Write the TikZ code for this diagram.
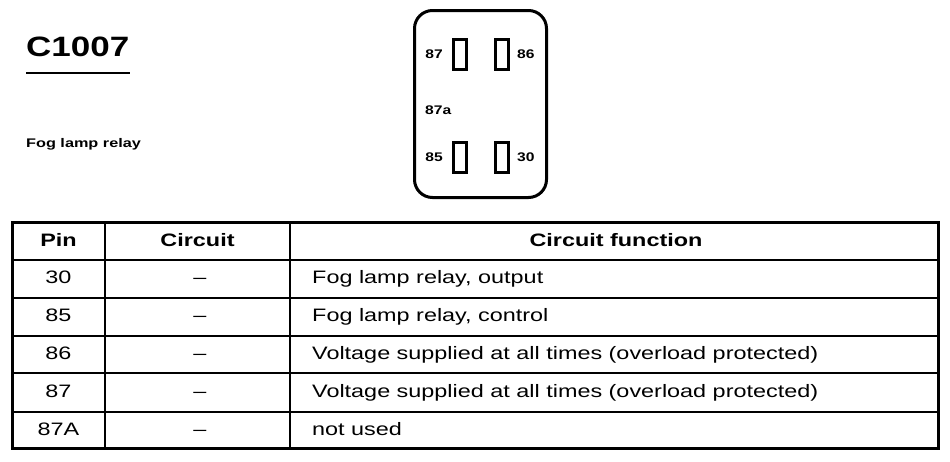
\documentclass[tikz,border=0pt]{standalone}
\usepackage{fontspec}
\setmainfont{Liberation Sans}
\newfontfamily\widefont[FakeStretch=1.3]{Liberation Sans}
\newfontfamily\labelfont[FakeStretch=1.25]{Liberation Sans}
\usetikzlibrary{positioning}

\begin{document}
\begin{tikzpicture}[x=1pt, y=-1pt,
    title/.style={font=\labelfont\bfseries\fontsize{28}{30}\selectfont, inner sep=0pt},
    caption/.style={font=\widefont\bfseries\fontsize{12.5}{14}\selectfont, inner sep=0pt},
    housing/.style={draw, line width=3pt, rounded corners=18pt, minimum width=132pt, minimum height=187pt},
    pinbox/.style={draw, line width=3pt, minimum width=13pt, minimum height=30pt, inner sep=0pt},
    pinlbl/.style={font=\labelfont\bfseries\fontsize{12.5}{14}\selectfont, inner sep=0pt},
    head/.style={font=\widefont\bfseries\fontsize{18}{20}\selectfont, inner sep=0pt, anchor=base},
    cell/.style={font=\widefont\fontsize{18}{20}\selectfont, inner sep=0pt, anchor=base},
    func/.style={cell, anchor=base west},
    grid/.style={line width=2pt},
    frame/.style={line width=3pt}]

\useasboundingbox (0,0) rectangle (950,461);

% Title and caption
\node[title, anchor=south west] (title) at (26,57) {C1007};
\draw[line width=2pt] ([yshift=-15.5pt]title.south west) -- ([yshift=-15.5pt]title.south east);
\node[caption, anchor=base west] (caption) at (26,147) {Fog lamp relay};

% Relay connector face
\node[housing] (relay) at (480.5,104) {};
\node[pinbox] (b87) at (460,54) {};
\node[pinbox, right=26pt of b87] (b86) {};
\node[pinbox, below=70pt of b87] (b85) {};
\node[pinbox, below=70pt of b86] (b30) {};
\node[pinlbl, left=9pt of b87] (l87) {87};
\node[pinlbl, right=7pt of b86] (l86) {86};
\node[pinlbl, left=9pt of b85] (l85) {85};
\node[pinlbl, right=7pt of b30] (l30) {30};
\node[pinlbl, anchor=west] (l87a) at (425,110) {87a};

% Table frame and rules
\draw[grid] (12,260) -- (938,260);
\draw[grid] (12,298) -- (938,298);
\draw[grid] (12,335.5) -- (938,335.5);
\draw[grid] (12,373) -- (938,373);
\draw[grid] (12,411.5) -- (938,411.5);
\draw[grid] (105,222) -- (105,448.5);
\draw[grid] (290,222) -- (290,448.5);
\draw[frame] (12,222) rectangle (938,448.5);

% Header row
\node[head] (hpin) at (58.5,246) {Pin};
\node[head] (hcirc) at (197.5,246) {Circuit};
\node[head] (hfunc) at (616,246) {Circuit function};

% Rows
\node[cell] (p30) at (58.5,283) {30};
\node[cell] (c30) at (200,283) {–};
\node[func] (f30) at (312,283) {Fog lamp relay, output};

\node[cell] (p85) at (58.5,321) {85};
\node[cell] (c85) at (200,321) {–};
\node[func] (f85) at (312,321) {Fog lamp relay, control};

\node[cell] (p86) at (58.5,359) {86};
\node[cell] (c86) at (200,359) {–};
\node[func] (f86) at (312,359) {Voltage supplied at all times (overload protected)};

\node[cell] (p87) at (58.5,397) {87};
\node[cell] (c87) at (200,397) {–};
\node[func] (f87) at (312,397) {Voltage supplied at all times (overload protected)};

\node[cell] (p87a) at (58.5,435) {87A};
\node[cell] (c87a) at (200,435) {–};
\node[func] (f87a) at (312,435) {not used};

\end{tikzpicture}
\end{document}
